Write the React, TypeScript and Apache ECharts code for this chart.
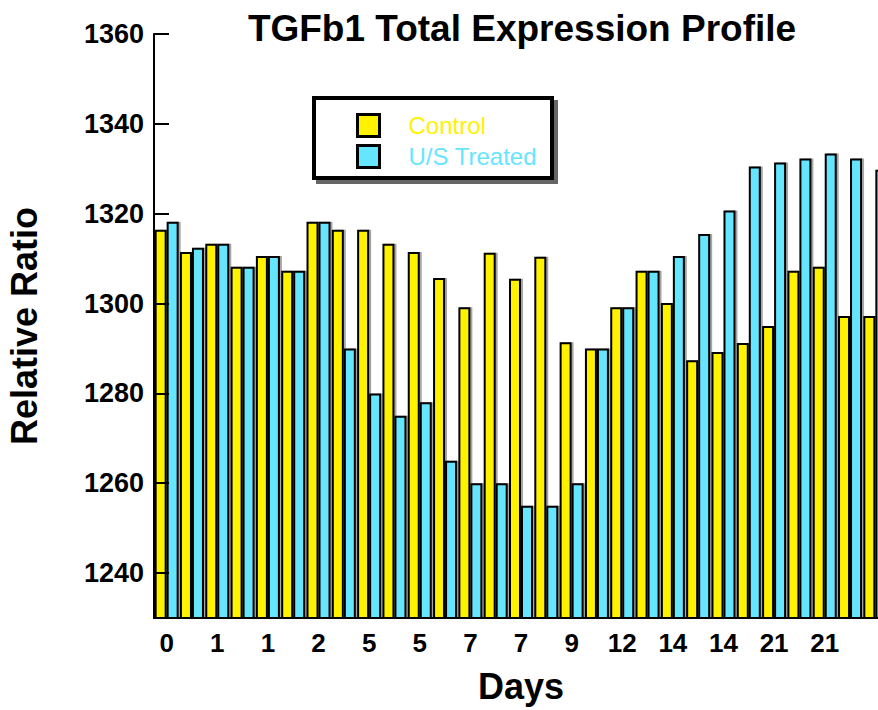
import React, { useEffect, useRef } from "react";
import * as echarts from "echarts";

const dayLabels = ["0", "1", "1", "2", "5", "5", "7", "7", "9", "12", "14", "14", "21", "21"];
const controlValues = [
  1316.4, 1311.5, 1313.3, 1308.2, 1310.6, 1307.3, 1318.2, 1316.4, 1316.4, 1313.3,
  1311.5, 1305.7, 1299.2, 1311.3, 1305.5, 1310.4, 1291.4, 1290.0, 1299.2, 1307.3,
  1300.1, 1287.4, 1289.2, 1291.2, 1295.0, 1307.3, 1308.2, 1297.2, 1297.2,
];
const treatedValues = [
  1318.2, 1312.4, 1313.3, 1308.2, 1310.6, 1307.3, 1318.2, 1290.0, 1280.0, 1275.0,
  1278.0, 1265.0, 1260.0, 1260.0, 1255.0, 1255.0, 1260.0, 1290.0, 1299.2, 1307.3,
  1310.6, 1315.5, 1320.7, 1330.5, 1331.4, 1332.3, 1333.4, 1332.3, 1329.8,
];
const yTicks = [1240, 1260, 1280, 1300, 1320, 1340, 1360];
const categories = controlValues.map((_, i) => String(i));

const FONT = "'Liberation Sans', Arial, sans-serif";
const YELLOW = "#FFF200";
const CYAN = "#66E5FF";

export default function App() {
  const ref = useRef<HTMLDivElement>(null);
  useEffect(() => {
    if (!ref.current) return;
    const chart = echarts.init(ref.current, undefined, { renderer: "svg" });
    const barStyle = (color: string) => ({
      color,
      borderColor: "#000",
      borderWidth: 2,
      shadowColor: "rgba(0,0,0,0.35)",
      shadowOffsetX: 2,
      shadowOffsetY: 0,
      shadowBlur: 1,
    });
    chart.setOption({
      animation: false,
      backgroundColor: "#fff",
      textStyle: { fontFamily: FONT },
      title: {
        text: "TGFb1 Total Expression Profile",
        left: 517,
        textAlign: "center",
        top: 5,
        textStyle: { fontFamily: FONT, fontSize: 37, fontWeight: "bold", color: "#000" },
      },
      grid: { left: 154, top: 34, width: 734, height: 584, containLabel: false, outerBoundsMode: "none" },
      legend: {
        orient: "vertical",
        left: 356,
        top: 113,
        z: 10,
        itemWidth: 22,
        itemHeight: 22,
        itemGap: 6,
        padding: 0,
        icon: "rect",
        itemStyle: { borderColor: "#000", borderWidth: 3, shadowBlur: 0, shadowOffsetX: 0 },
        data: [
          { name: "Control", textStyle: { color: YELLOW } },
          { name: "U/S Treated", textStyle: { color: CYAN } },
        ],
        textStyle: { fontFamily: FONT, fontSize: 24, padding: [0, 0, 0, 24] },
      },
      graphic: [
        {
          type: "rect",
          z: 5,
          shape: { x: 314, y: 98, width: 238, height: 80 },
          style: {
            fill: "#fff",
            stroke: "#000",
            lineWidth: 4,
            shadowColor: "rgba(0,0,0,0.6)",
            shadowOffsetX: 4,
            shadowOffsetY: 4,
            shadowBlur: 1,
          },
        },
      ],
      xAxis: {
        type: "category",
        data: categories,
        z: 5,
        name: "Days",
        nameLocation: "middle",
        nameGap: 50,
        nameTextStyle: { fontFamily: FONT, fontSize: 36, fontWeight: "bold", color: "#000" },
        axisLine: { lineStyle: { color: "#000", width: 2 } },
        axisTick: { inside: true, length: 15, interval: 1, lineStyle: { color: "#000", width: 3 } },
        axisLabel: {
          interval: 0,
          margin: 12,
          fontFamily: FONT,
          fontSize: 26,
          fontWeight: "bold",
          color: "#000",
          formatter: (_v: string, i: number) => (i % 2 === 0 ? dayLabels[i / 2] ?? "" : ""),
        },
        splitLine: { show: false },
      },
      yAxis: {
        type: "value",
        min: 1230,
        max: 1360,
        z: 5,
        name: "Relative Ratio",
        nameLocation: "middle",
        nameGap: 112,
        nameTextStyle: { fontFamily: FONT, fontSize: 36, fontWeight: "bold", color: "#000" },
        axisLine: { show: true, lineStyle: { color: "#000", width: 2 } },
        axisTick: { show: true, inside: true, length: 15, customValues: yTicks, lineStyle: { color: "#000", width: 2 } },
        axisLabel: {
          customValues: yTicks,
          margin: 10,
          fontFamily: FONT,
          fontSize: 27,
          fontWeight: "bold",
          color: "#000",
          formatter: (v: number) => String(v),
        },
        splitLine: { show: false },
      },
      series: [
        {
          name: "Control",
          type: "bar",
          data: controlValues,
          barWidth: 12,
          barGap: "0%",
          itemStyle: barStyle(YELLOW),
        },
        {
          name: "U/S Treated",
          type: "bar",
          data: treatedValues,
          barWidth: 12,
          barGap: "0%",
          itemStyle: barStyle(CYAN),
        },
      ],
    });
    return () => chart.dispose();
  }, []);
  return (
    <div style={{ position: "fixed", left: 0, top: 0, width: 878, height: 710, overflow: "hidden", background: "#fff" }}>
      <div ref={ref} style={{ width: 900, height: 710 }} />
    </div>
  );
}
